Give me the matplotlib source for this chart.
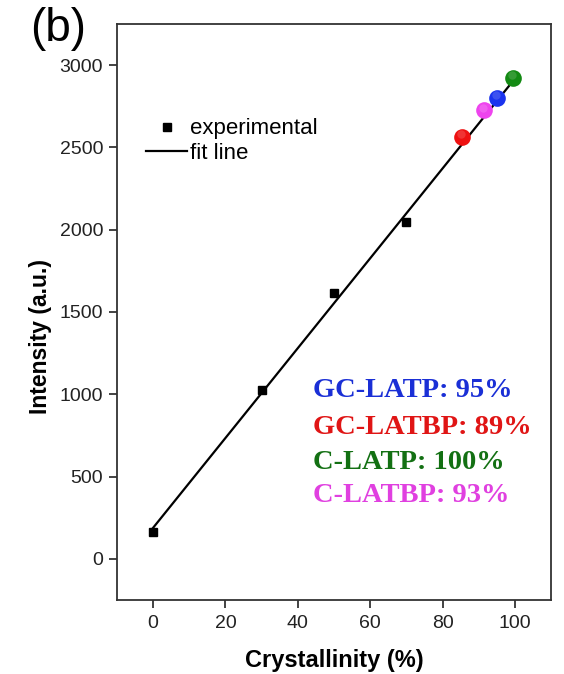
import numpy as np
import matplotlib
matplotlib.use("Agg")
import matplotlib.pyplot as plt

# experimental data
exp_x = [0, 30, 50, 70]
exp_y = [162, 1023, 1617, 2047]

# sample points (sphere markers)
sample_names = ["GC-LATBP", "C-LATBP", "GC-LATP", "C-LATP"]
sample_x = [85.5, 91.5, 95.0, 99.4]
sample_y = [2566, 2726, 2801, 2923]
sample_colors = ["#ee1111", "#ee44ee", "#1a33ee", "#138a13"]

# annotation text
ann_text = ["GC-LATP: 95%", "GC-LATBP: 89%", "C-LATP: 100%", "C-LATBP: 93%"]
ann_colors = ["#1a2fd6", "#e01515", "#137013", "#e040e0"]

fit_range = [0, 100]

plt.rcParams['font.family'] = ['Liberation Sans', 'DejaVu Sans']

fig = plt.figure(figsize=(5.64, 6.74), dpi=100)
ax = fig.add_axes([0.2074, 0.1098, 0.7696, 0.8546])

coef = np.polyfit(exp_x, exp_y, 1)
fx = np.array(fit_range, dtype=float)
ax.plot(fx, np.polyval(coef, fx), color='black', lw=1.6, zorder=2, label='fit line')
ax.plot(exp_x, exp_y, 's', color='black', ms=6, zorder=3, label='experimental')

for x, y, c in zip(sample_x, sample_y, sample_colors):
    ax.plot([x], [y], 'o', color=c, ms=12, mec='none', zorder=4)
    ax.plot([x - 0.3], [y + 15], 'o', color='white', alpha=0.15, ms=6, mec='none', zorder=5)

ax.set_xlim(-10, 110)
ax.set_ylim(-250, 3250)
ax.set_xticks([0, 20, 40, 60, 80, 100])
ax.set_yticks([0, 500, 1000, 1500, 2000, 2500, 3000])
ax.tick_params(axis='both', labelsize=14, direction='out', length=6, width=1.2,
               colors='#222222', labelcolor='#222222')
ax.tick_params(axis='x', pad=5)
ax.tick_params(axis='y', pad=4)
for s in ax.spines.values():
    s.set_linewidth(1.3)
    s.set_color('#333333')

ax.set_xlabel('Crystallinity (%)', fontsize=17, fontweight='bold', labelpad=12)
ax.set_ylabel('Intensity (a.u.)', fontsize=16.5, fontweight='bold')
ax.yaxis.set_label_coords(-0.15, 0.458)

handles, labels = ax.get_legend_handles_labels()
order = [1, 0]
ax.legend([handles[i] for i in order], [labels[i] for i in order], loc='upper left',
          bbox_to_anchor=(0.067, 0.836), frameon=False, fontsize=16, handlelength=1.85,
          handletextpad=0.15, labelspacing=0.15, borderpad=0, borderaxespad=0)

ys = [0.363, 0.299, 0.238, 0.181]
for t, c, yy in zip(ann_text, ann_colors, ys):
    ax.text(0.4516, yy, t, transform=ax.transAxes, color=c, fontsize=20.5,
            fontweight='bold', family=['Liberation Serif', 'DejaVu Serif'], va='center', ha='left')

fig.text(0.053, 0.957, '(b)', fontsize=33, ha='left', va='center')

fig.savefig('out.png', dpi=100)
